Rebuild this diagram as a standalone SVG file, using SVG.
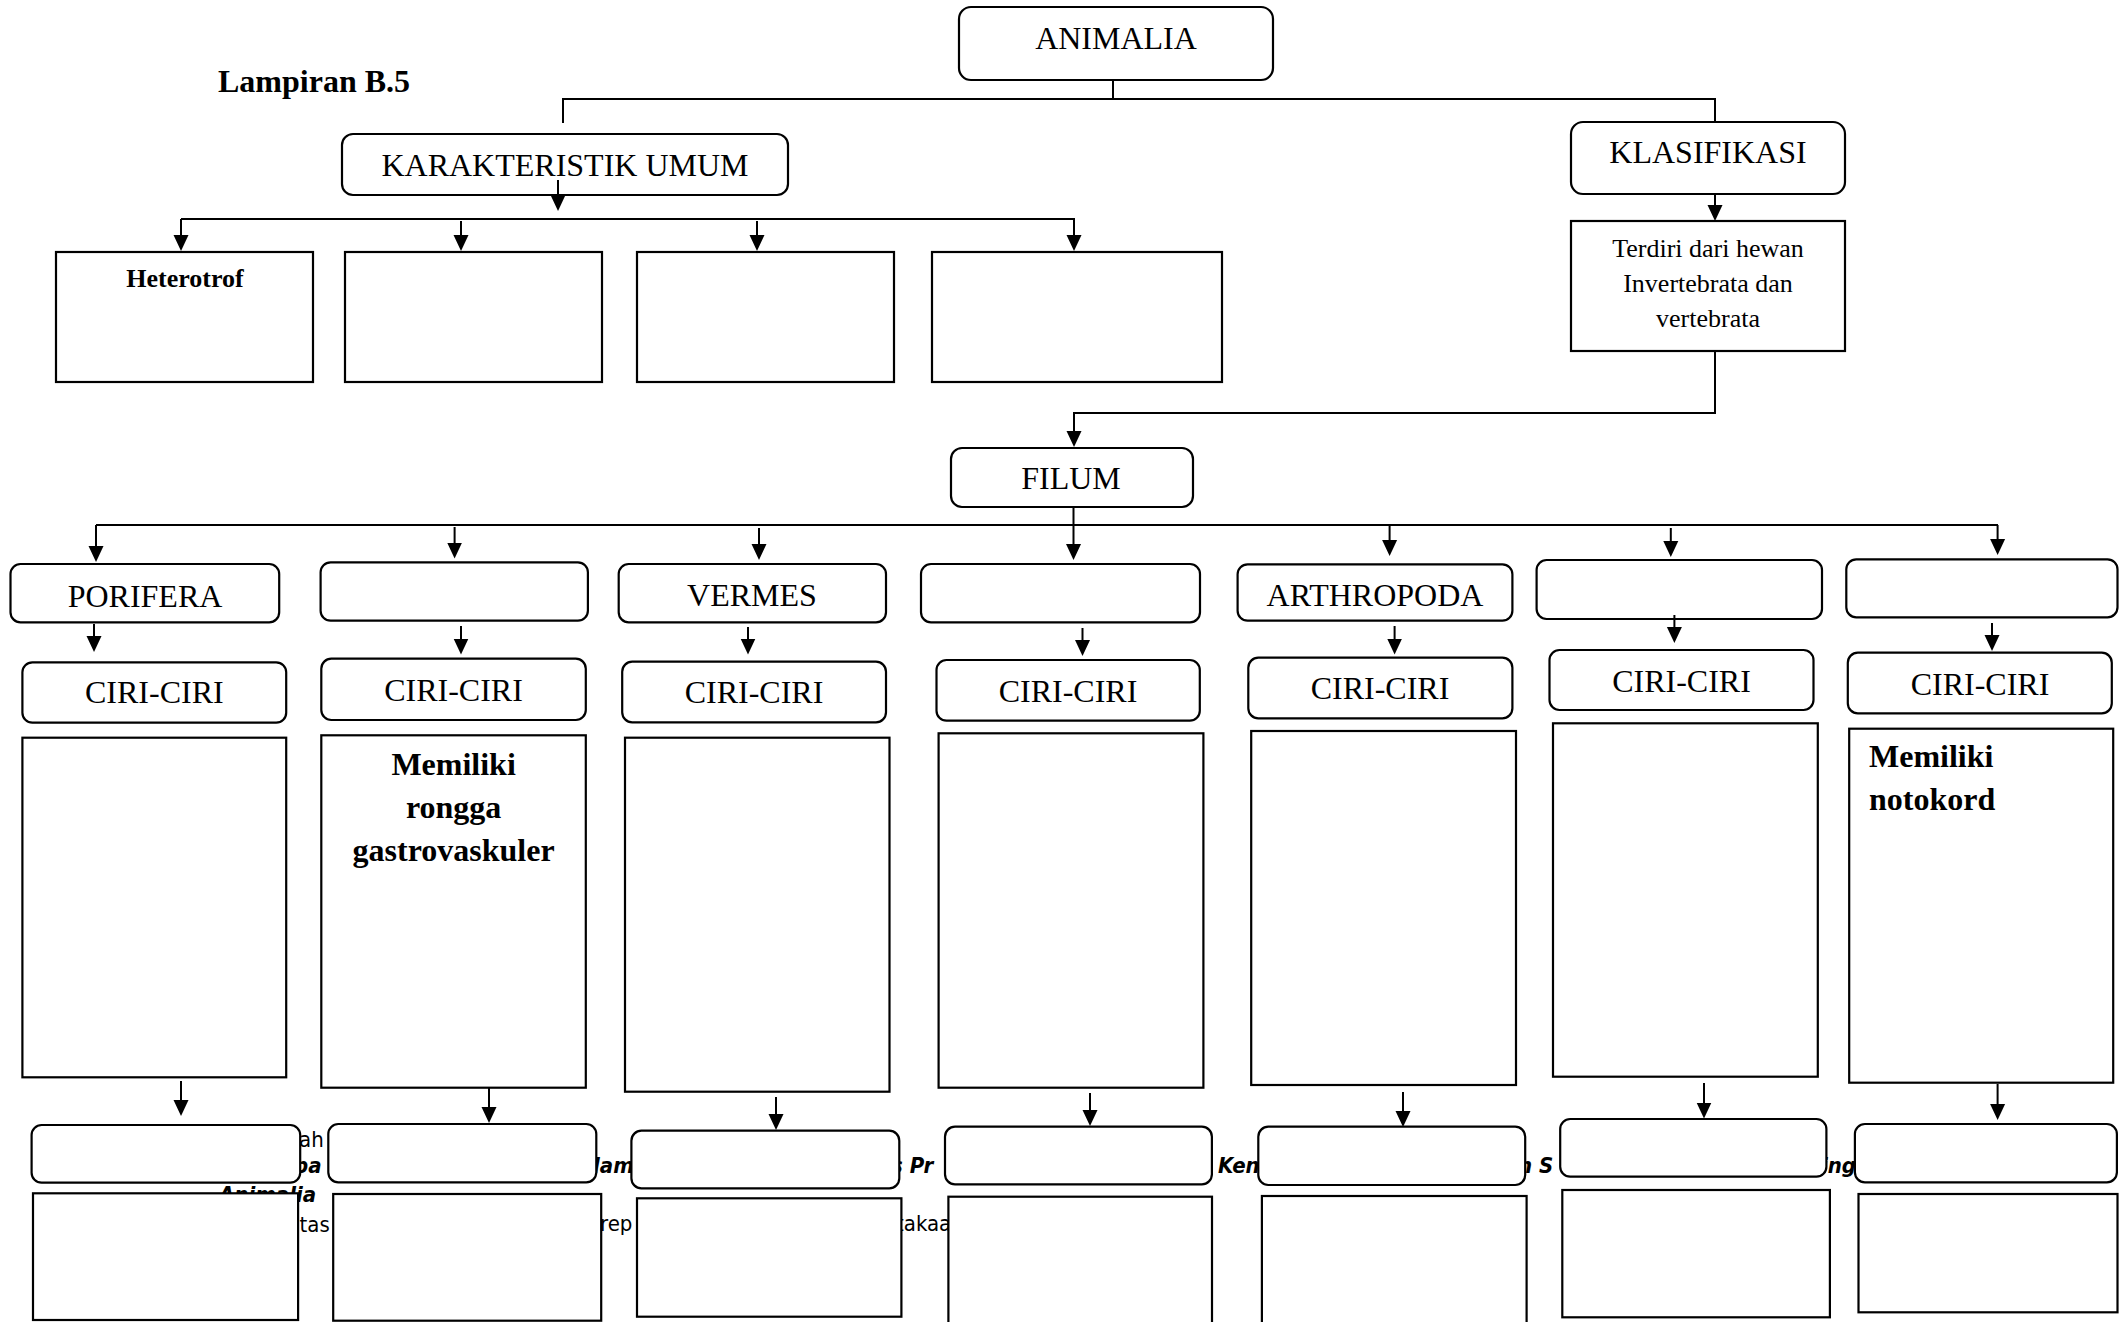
<svg xmlns="http://www.w3.org/2000/svg" width="2119" height="1322" viewBox="0 0 2119 1322">
<style>
.rb{fill:#fff;stroke:#000;stroke-width:2.2}
.sb{fill:#fff;stroke:#000;stroke-width:2.2}
.t{font-family:"Liberation Serif","Times New Roman",serif;font-size:32px;fill:#000;text-anchor:middle}
.ts{font-family:"Liberation Serif","Times New Roman",serif;font-size:26px;fill:#000;text-anchor:middle}
.tb{font-family:"Liberation Serif","Times New Roman",serif;font-size:32px;font-weight:bold;fill:#000}
.bg{font-family:"DejaVu Sans Condensed","DejaVu Sans",sans-serif;font-stretch:condensed;font-size:22px;fill:#000}
.bgi{font-family:"DejaVu Sans Condensed","DejaVu Sans",sans-serif;font-stretch:condensed;font-size:22px;font-weight:bold;font-style:italic;fill:#000}
.c{fill:none;stroke:#000;stroke-width:2}
.a{fill:none;stroke:#000;stroke-width:2;marker-end:url(#ah)}
</style>
<defs>
<marker id="ah" viewBox="0 0 16 16" markerWidth="16" markerHeight="16" refX="12" refY="8" orient="auto" markerUnits="userSpaceOnUse">
<path d="M0,0.5 L16,8 L0,15.5 Z" fill="#000"/>
</marker>
</defs>
<rect width="2119" height="1322" fill="#fff"/>

<g id="background-text">
<text class="bg" x="299" y="1146.5">ah</text>
<text class="bgi" x="294" y="1173">pa</text>
<text class="bgi" x="593" y="1173">lam</text>
<text class="bgi" x="891" y="1173">s Pr</text>
<text class="bgi" x="1218" y="1173">Ken</text>
<text class="bgi" x="1518" y="1173">n S</text>
<text class="bgi" x="1821" y="1173">ing</text>
<text class="bgi" x="219" y="1201.5">Animalia</text>
<text class="bg" x="294" y="1231.5">itas</text>
<text class="bg" x="600" y="1231">rep</text>
<text class="bg" x="896" y="1230.5">takaa</text>
</g>

<text class="tb" x="218" y="92">Lampiran B.5</text>

<g id="animalia"><rect class="rb" x="959" y="7" width="314" height="73" rx="12"/><text class="t" x="1116" y="49">ANIMALIA</text></g>
<g id="karakteristik-umum"><rect class="rb" x="342" y="134" width="446" height="61" rx="11"/><text class="t" x="565" y="176">KARAKTERISTIK UMUM</text></g>
<g id="klasifikasi"><rect class="rb" x="1571" y="122" width="274" height="72" rx="12"/><text class="t" x="1708" y="163">KLASIFIKASI</text></g>
<g id="invertebrata-vertebrata"><rect class="sb" x="1571" y="221" width="274" height="130"/>
<text class="ts" x="1708" y="256.7">Terdiri dari hewan</text>
<text class="ts" x="1708" y="291.7">Invertebrata dan</text>
<text class="ts" x="1708" y="326.7">vertebrata</text></g>

<g id="heterotrof"><rect class="sb" x="56" y="252" width="257" height="130"/><text class="ts" x="185" y="287" font-weight="bold">Heterotrof</text></g>
<g id="karakteristik-2"><rect class="sb" x="345" y="252" width="257" height="130"/></g>
<g id="karakteristik-3"><rect class="sb" x="637" y="252" width="257" height="130"/></g>
<g id="karakteristik-4"><rect class="sb" x="932" y="252" width="290" height="130"/></g>

<g id="filum"><rect class="rb" x="951" y="448" width="242" height="59" rx="11"/><text class="t" x="1071" y="489">FILUM</text></g>

<g id="porifera"><rect class="rb" x="10.5" y="564" width="268.7" height="58.3" rx="10"/><text class="t" x="145" y="606.5">PORIFERA</text></g>
<g id="filum-2"><rect class="rb" x="320.6" y="562.3" width="267.3" height="58.4" rx="10"/></g>
<g id="vermes"><rect class="rb" x="618.7" y="564" width="267.3" height="58.3" rx="10"/><text class="t" x="752" y="606">VERMES</text></g>
<g id="filum-4"><rect class="rb" x="921" y="564" width="279" height="58.3" rx="10"/></g>
<g id="arthropoda"><rect class="rb" x="1237.6" y="564.3" width="274.8" height="56.4" rx="10"/><text class="t" x="1375" y="606">ARTHROPODA</text></g>
<g id="filum-6"><rect class="rb" x="1536.6" y="560" width="285.4" height="59" rx="10"/></g>
<g id="filum-7"><rect class="rb" x="1846.3" y="559.3" width="271.2" height="58" rx="10"/></g>

<g id="ciri-1"><rect class="rb" x="22.4" y="662.3" width="263.8" height="60.4" rx="10"/><text class="t" x="154.3" y="703.3">CIRI-CIRI</text></g>
<g id="ciri-2"><rect class="rb" x="321.3" y="658.7" width="264.5" height="61.3" rx="10"/><text class="t" x="453.5" y="701">CIRI-CIRI</text></g>
<g id="ciri-3"><rect class="rb" x="622.2" y="661.7" width="263.8" height="60.6" rx="10"/><text class="t" x="754" y="703">CIRI-CIRI</text></g>
<g id="ciri-4"><rect class="rb" x="936.5" y="660" width="263.3" height="60.7" rx="10"/><text class="t" x="1068" y="701.7">CIRI-CIRI</text></g>
<g id="ciri-5"><rect class="rb" x="1248.3" y="657.7" width="264.1" height="60.6" rx="10"/><text class="t" x="1380" y="699.3">CIRI-CIRI</text></g>
<g id="ciri-6"><rect class="rb" x="1549.5" y="650" width="264" height="60" rx="10"/><text class="t" x="1681.5" y="691.7">CIRI-CIRI</text></g>
<g id="ciri-7"><rect class="rb" x="1847.8" y="652.7" width="264" height="60.6" rx="10"/><text class="t" x="1980" y="695">CIRI-CIRI</text></g>

<g id="ciri-isi-1"><rect class="sb" x="22.4" y="737.7" width="263.8" height="339.6"/></g>
<g id="ciri-isi-2"><rect class="sb" x="321.3" y="735.3" width="264.5" height="352.4"/>
<text class="tb" x="453.6" y="775" text-anchor="middle">Memiliki</text>
<text class="tb" x="453.6" y="818" text-anchor="middle">rongga</text>
<text class="tb" x="453.6" y="861" text-anchor="middle">gastrovaskuler</text></g>
<g id="ciri-isi-3"><rect class="sb" x="625" y="737.7" width="264.5" height="354"/></g>
<g id="ciri-isi-4"><rect class="sb" x="938.6" y="733.3" width="264.8" height="354.4"/></g>
<g id="ciri-isi-5"><rect class="sb" x="1251.2" y="731" width="264.8" height="354"/></g>
<g id="ciri-isi-6"><rect class="sb" x="1553" y="723.3" width="264.8" height="353.4"/></g>
<g id="ciri-isi-7"><rect class="sb" x="1849.2" y="728.7" width="264" height="354"/>
<text class="tb" x="1869" y="766.7">Memiliki</text>
<text class="tb" x="1869" y="810">notokord</text></g>

<g id="sub-1"><rect class="rb" x="31.6" y="1125" width="268.6" height="57.7" rx="10"/></g>
<g id="sub-2"><rect class="rb" x="328.3" y="1124" width="268" height="58.3" rx="10"/></g>
<g id="sub-3"><rect class="rb" x="631.4" y="1130.7" width="267.9" height="57.6" rx="10"/></g>
<g id="sub-4"><rect class="rb" x="945" y="1126.7" width="266.9" height="57.6" rx="10"/></g>
<g id="sub-5"><rect class="rb" x="1258.3" y="1126.7" width="266.9" height="58.3" rx="10"/></g>
<g id="sub-6"><rect class="rb" x="1560.2" y="1119" width="266.2" height="57.7" rx="10"/></g>
<g id="sub-7"><rect class="rb" x="1854.9" y="1124" width="262" height="58.3" rx="10"/></g>

<g id="sub-isi-1"><rect class="sb" x="33" y="1193.3" width="265.1" height="126.7"/></g>
<g id="sub-isi-2"><rect class="sb" x="333.2" y="1194" width="268" height="126.7"/></g>
<g id="sub-isi-3"><rect class="sb" x="637" y="1198.3" width="264.4" height="118.4"/></g>
<g id="sub-isi-4"><rect class="sb" x="948.4" y="1196.7" width="263.6" height="140"/></g>
<g id="sub-isi-5"><rect class="sb" x="1261.9" y="1196" width="264.7" height="140"/></g>
<g id="sub-isi-6"><rect class="sb" x="1562.3" y="1190" width="267.6" height="127.3"/></g>
<g id="sub-isi-7"><rect class="sb" x="1858.5" y="1194" width="259" height="118.3"/></g>

<g id="connectors">
<path class="c" d="M1113,81 V99"/>
<path class="c" d="M563,123 V99 H1715 V122"/>
<path class="a" d="M558,180 V207"/>
<path class="c" d="M181,219 H1075"/>
<path class="a" d="M181,219 V247"/>
<path class="a" d="M461,221 V247"/>
<path class="a" d="M757,221 V247"/>
<path class="a" d="M1074,219 V247"/>
<path class="a" d="M1715,194 V217"/>
<path class="a" d="M1715,351 V413 H1074 V443"/>
<path class="c" d="M96,525 H1998"/>
<path class="a" d="M1073.5,507 V556"/>
<path class="a" d="M96,525 V558"/>
<path class="a" d="M454.6,527 V554.5"/>
<path class="a" d="M759,528 V556"/>
<path class="a" d="M1389.6,526 V552"/>
<path class="a" d="M1670.8,528 V553"/>
<path class="a" d="M1997.6,525 V551"/>
<path class="a" d="M94,624 V648"/>
<path class="a" d="M461,626 V650.5"/>
<path class="a" d="M748,627 V650.5"/>
<path class="a" d="M1082.5,628 V652"/>
<path class="a" d="M1394.6,626 V650.5"/>
<path class="a" d="M1674.4,615 V639"/>
<path class="a" d="M1992,623 V647"/>
<path class="a" d="M181,1081 V1112"/>
<path class="a" d="M489,1088 V1119"/>
<path class="a" d="M776,1097 V1126"/>
<path class="a" d="M1090,1093 V1122"/>
<path class="a" d="M1403,1092 V1123"/>
<path class="a" d="M1704,1083 V1114.5"/>
<path class="a" d="M1997.6,1084 V1116"/>
</g>
</svg>
